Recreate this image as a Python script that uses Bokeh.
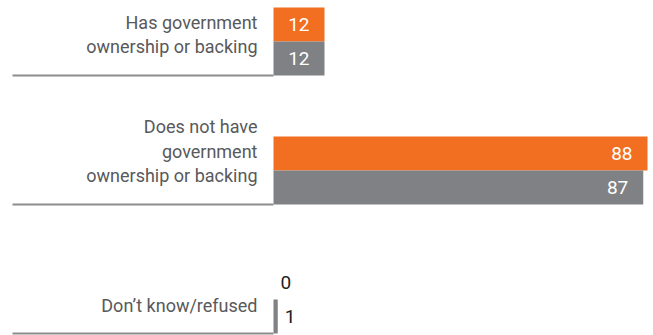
from bokeh.plotting import figure
from bokeh.models import Range1d, ColumnDataSource
from bokeh.core.properties import value
from bokeh.embed import file_html
from bokeh.resources import INLINE

# ---- data ----
categories = [
    "Has government\nownership or backing",
    "Does not have\ngovernment\nownership or backing",
    "Don\u2019t know/refused",
]
series_orange = [12, 88, 0]
series_gray = [12, 87, 1]

# ---- styles / layout ----
W, H = 653, 335
ORANGE = "#F26F21"
GRAY = "#808184"
TEXT_GRAY = "#58595B"
LINE_GRAY = "#8C8C8C"
FONT = "Roboto"
BAR_X0_PX = 273.0
BAR_MAX_PX = 647.0
GROUP_TOP_PX = 41.0
GROUP_STEP_PX = 129.0
BAR_H_PX = 34.0

vmax = max(max(series_orange), max(series_gray))
k = (BAR_MAX_PX - BAR_X0_PX) / vmax  # px per unit
x_start = -BAR_X0_PX / k
x_end = x_start + W / k

y_top = -GROUP_TOP_PX / GROUP_STEP_PX
y_bottom = (H - GROUP_TOP_PX) / GROUP_STEP_PX
bh = BAR_H_PX / GROUP_STEP_PX

p = figure(width=W, height=H, output_backend="svg", toolbar_location=None,
           x_range=Range1d(x_start, x_end), y_range=Range1d(y_bottom, y_top),
           x_axis_location=None, y_axis_location=None, min_border=0)
p.outline_line_color = None
p.grid.visible = False
p.background_fill_color = "white"
p.border_fill_color = "white"

idx = list(range(len(categories)))

# bars
src_o = ColumnDataSource(dict(y=[i - bh / 2 for i in idx], v=series_orange))
src_g = ColumnDataSource(dict(y=[i + bh / 2 for i in idx], v=series_gray))
p.hbar(y="y", left=0, right="v", height=bh, color=ORANGE, line_width=0, source=src_o)
p.hbar(y="y", left=0, right="v", height=bh, color=GRAY, line_width=0, source=src_g)

# baselines under each group (from left margin to bar start)
x_line0 = x_start + 12 / k
p.segment(x0=[x_line0] * len(idx), x1=[0] * len(idx),
          y0=[i + bh for i in idx], y1=[i + bh for i in idx],
          line_color=LINE_GRAY, line_width=2)

# category labels
p.text(x=[0] * len(idx), y=[i + bh for i in idx], text=categories,
       x_offset=-16, y_offset=-18, text_align="right", text_baseline="bottom",
       text_font=value(FONT), text_font_size="18px", text_color=TEXT_GRAY,
       text_line_height=1.19)

# value labels
def value_labels(vals, ys):
    inside = dict(x=[], y=[], t=[])
    outside = dict(x=[], y=[], t=[])
    for v, y in zip(vals, ys):
        d = inside if v * k >= 30 else outside
        d["x"].append(v)
        d["y"].append(y)
        d["t"].append(str(v))
    return inside, outside

for vals, ys in ((series_orange, [i - bh / 2 for i in idx]),
                 (series_gray, [i + bh / 2 for i in idx])):
    ins, outs = value_labels(vals, ys)
    p.text(x=ins["x"], y=ins["y"], text=ins["t"], x_offset=-15,
           text_align="right", text_baseline="middle", text_font=value(FONT),
           text_font_size="19px", text_color="white")
    p.text(x=outs["x"], y=outs["y"], text=outs["t"], x_offset=7,
           text_align="left", text_baseline="middle", text_font=value(FONT),
           text_font_size="19px", text_color="#231F20")

open("out.html", "w").write(file_html(p, INLINE))
